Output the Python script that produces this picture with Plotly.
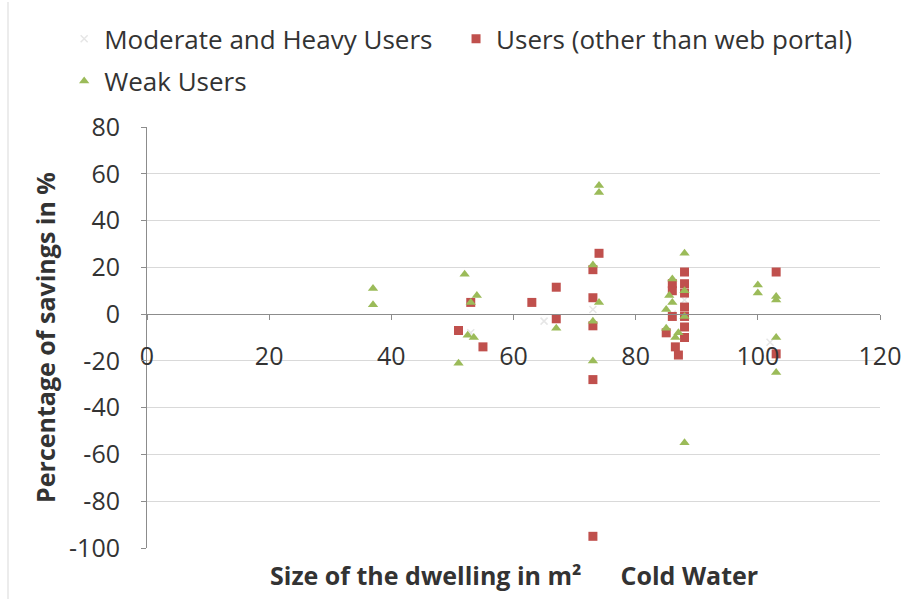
import plotly.graph_objects as go

# Moderate and Heavy Users (very faint markers)
mod_x = [65, 73, 86, 88, 102, 53]
mod_y = [-3, 2, 0, 6, -12, -8]

# Users (other than web portal)
users_x = [51, 53, 55, 63, 67, 67, 73, 73, 73, 73, 73, 74,
           88, 88, 88, 88, 88, 88, 88, 86, 86, 86, 85, 86.5, 87, 103, 103]
users_y = [-7, 5, -14, 5, 11.5, -2, 19, 7, -5, -28, -95, 26,
           18, 13, 9, 3, -1, -5.5, -10, 13, 10, -1, -8, -14, -17.5, 18, -17]

# Weak Users
weak_x = [37, 37, 52, 53, 54, 51, 52.5, 53.5, 67, 74, 74, 73, 74, 73, 73,
          88, 86, 86, 85, 85, 86.5, 88, 88, 87, 85.5, 88, 100, 100, 103, 103, 103, 103]
weak_y = [11, 4, 17, 5, 8, -21, -9, -10, -6, 55, 52, 21, 5, -3, -20,
          26, 15, 5, 2, -6, -10, 10, -1, -8, 8, -55, 12.5, 9, 6, 7.5, -10, -25]

y_tickvals = [-100, -80, -60, -40, -20, 0, 20, 40, 60, 80]
y_ticktext = ["-100", "-80", "-60", "-40", "-20", "0", "20", "40", "60", "80"]
x_tickvals = [0, 20, 40, 60, 80, 100, 120]
x_ticktext = ["0", "20", "40", "60", "80", "100", "120"]

FONT = "Open Sans"
TXT = "#333333"

fig = go.Figure()
fig.add_trace(go.Scatter(x=mod_x, y=mod_y, mode="markers", name="Moderate and Heavy Users",
                         marker=dict(symbol="x-thin", size=7, line=dict(width=1.5, color="#e6e6e6"),
                                     color="#e6e6e6"),
                         showlegend=True, legend="legend"))
fig.add_trace(go.Scatter(x=users_x, y=users_y, mode="markers", name="Users (other than web portal)",
                         marker=dict(symbol="square", size=9, color="#c0504d"),
                         showlegend=True, legend="legend3"))
fig.add_trace(go.Scatter(x=weak_x, y=weak_y, mode="markers", name="Weak Users",
                         marker=dict(symbol="triangle-up", size=9, color="#9bbb59"),
                         showlegend=True, legend="legend2"))

leg_common = dict(orientation="h", xanchor="left", yanchor="top", visible=True,
                  font=dict(size=26, color=TXT), bgcolor="rgba(0,0,0,0)")

fig.update_layout(
    width=906, height=599, showlegend=True,
    margin=dict(l=147, r=26, t=127, b=51, autoexpand=False),
    paper_bgcolor="white", plot_bgcolor="white",
    font=dict(family=FONT, size=22, color=TXT),
    legend=dict(x=-0.113, y=1.265, **leg_common),
    legend3=dict(x=0.4216, y=1.265, **leg_common),
    legend2=dict(x=-0.113, y=1.165, **leg_common),
    xaxis=dict(range=[0, 120], tickmode="array", tickvals=x_tickvals, ticktext=x_ticktext,
               showgrid=False, zeroline=False, automargin=False,
               showline=True, linecolor="#8c8c8c", linewidth=1,
               ticks="outside", ticklen=5, tickcolor="#8c8c8c",
               anchor="free", position=100/180, ticklabelstandoff=15,
               tickfont=dict(size=25, color=TXT)),
    yaxis=dict(range=[-100, 80], tickmode="array", tickvals=y_tickvals, ticktext=y_ticktext,
               showgrid=True, gridcolor="#d9d9d9", automargin=False,
               zeroline=False, showline=True, linecolor="#8c8c8c", linewidth=1,
               ticks="outside", ticklen=5, tickcolor="#8c8c8c", ticklabelstandoff=16,
               tickfont=dict(size=25, color=TXT),
               title=dict(text="<b>Percentage of savings in %</b>", font=dict(size=25, color=TXT),
                          standoff=6)),
)

gap = "\u00a0" * 6
fig.add_annotation(text="<b>Size of the dwelling in m²" + gap + "Cold Water</b>",
                   xref="paper", yref="paper", x=0.5, y=-0.02, xanchor="center", yanchor="top",
                   showarrow=False, font=dict(size=25, color=TXT))

fig.add_shape(type="line", xref="paper", yref="paper",
              x0=(8 - 147) / 733, x1=(8 - 147) / 733, y0=-51 / 421, y1=(548 - 2) / 421,
              line=dict(color="#d9d9d9", width=1))

fig.write_html("out.html")
